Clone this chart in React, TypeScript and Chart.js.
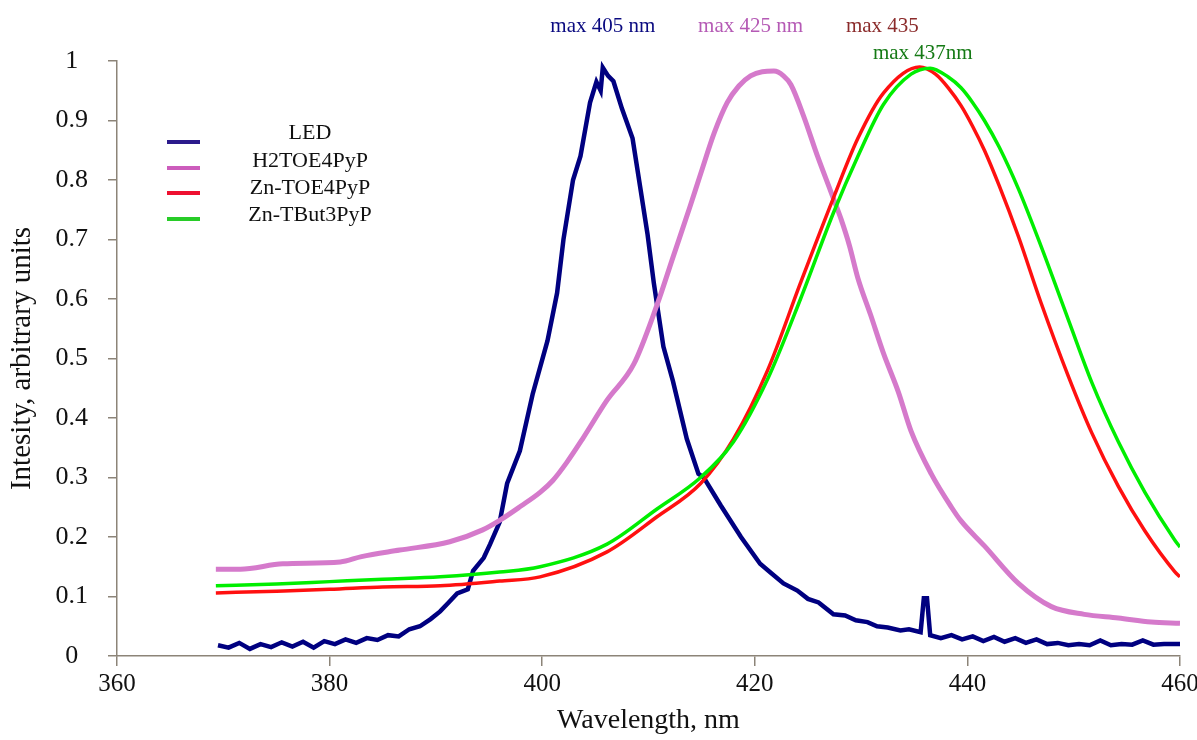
import React, { useEffect, useRef } from "react";
import { Chart, registerables } from "chart.js";

Chart.register(...registerables);

// ---- data ----
const xTickValues = [360, 380, 400, 420, 440, 460];
const yTickValues = [0, 0.1, 0.2, 0.3, 0.4, 0.5, 0.6, 0.7, 0.8, 0.9, 1];

const seriesNames = ["LED", "H2TOE4PyP", "Zn-TOE4PyP", "Zn-TBut3PyP"];
const peakLabels = ["max 405 nm", "max 425 nm", "max 435", "max 437nm"];

const ledX = [
  369.5, 370.5, 371.5, 372.5, 373.5, 374.5, 375.5, 376.5, 377.5, 378.5, 379.5,
  380.5, 381.5, 382.5, 383.5, 384.5, 385.5, 386.5, 387.5, 388.5, 389.5, 390.4,
  391.2, 392, 393, 393.5, 394.5, 395.1, 396, 396.7, 397.9, 399.1, 400.5, 401.4, 402,
  402.9, 403.6, 404.5, 405.1, 405.5, 405.7, 406.2, 406.7, 407.5, 408.5, 409.2,
  409.9, 410.5, 411.4, 412.3, 413.6, 414.7, 415.2, 416.8, 418.7, 420.5, 421.5,
  422.7, 424, 425, 426, 427.4, 428.5, 429.5, 430.6, 431.5, 432.5, 433.7, 434.5,
  435.6, 435.9, 436.2, 436.5, 437.5, 438.5, 439.5, 440.5, 441.5, 442.5, 443.5,
  444.5, 445.5, 446.5, 447.5, 448.5, 449.5, 450.5, 451.5, 452.5, 453.5, 454.5,
  455.5, 456.5, 457.5, 458.5, 460,
];
const ledY = [
  0.018, 0.014, 0.022, 0.012, 0.02, 0.015, 0.023, 0.016, 0.024, 0.014, 0.025,
  0.02, 0.028, 0.022, 0.03, 0.027, 0.035, 0.033, 0.045, 0.05, 0.062, 0.075,
  0.09, 0.105, 0.112, 0.143, 0.165, 0.188, 0.225, 0.29, 0.345, 0.44, 0.53, 0.61, 0.7,
  0.8, 0.84, 0.93, 0.965, 0.95, 0.989, 0.975, 0.966, 0.92, 0.87, 0.79,
  0.71, 0.627, 0.52, 0.462, 0.365, 0.306, 0.3, 0.253, 0.2, 0.155, 0.14,
  0.122, 0.11, 0.096, 0.09, 0.07, 0.068, 0.06, 0.057, 0.05, 0.048, 0.043, 0.045,
  0.04, 0.097, 0.097, 0.035, 0.03, 0.035, 0.028, 0.033, 0.025, 0.032, 0.024,
  0.03, 0.022, 0.028, 0.02, 0.022, 0.018, 0.02, 0.018, 0.026, 0.018, 0.02,
  0.019, 0.026, 0.019, 0.02, 0.02,
];

const h2X = [
  369.3, 371.6, 375.6, 381, 383, 386.6, 391.3, 394.4, 396, 398, 399.8, 401,
  402.3, 403.8, 406.1, 408.6, 410.8, 412.3, 413.9, 414.9, 416.2, 417.4, 418.5,
  419.6, 420.7, 421.8, 422.7, 423.4, 424.6, 425.9, 427.1, 428.1, 428.9, 429.7,
  430.9, 432.1, 433.5, 434.7, 436.6, 438.5, 439.4, 441.6, 444.8, 447.9, 451,
  454.2, 457.3, 460,
];
const h2Y = [
  0.146, 0.146, 0.155, 0.158, 0.167, 0.178, 0.192, 0.212, 0.228, 0.252, 0.275, 0.295,
  0.325, 0.365, 0.43, 0.49, 0.59, 0.67, 0.755, 0.81, 0.88, 0.93, 0.958,
  0.975, 0.982, 0.983, 0.975, 0.96, 0.907, 0.84, 0.783, 0.735, 0.69, 0.635,
  0.573, 0.509, 0.444, 0.378, 0.306, 0.25, 0.227, 0.185, 0.122, 0.083, 0.07,
  0.064, 0.057, 0.055,
];

const znToeX = [
  369.3, 375, 380, 385, 390.4, 396, 399.8, 406.1, 410.8, 414.9, 418, 421.2,
  424.3, 427.4, 429.7, 432.1, 435.5, 437, 438.2, 439.4, 440.5, 441.6, 443, 444.8,
  446.9, 449.5, 451.7, 454.2, 456.7, 459.5, 460,
];
const znToeY = [
  0.106, 0.109, 0.112, 0.116, 0.118, 0.126, 0.133, 0.175, 0.234, 0.29, 0.365,
  0.48, 0.627, 0.77, 0.87, 0.946, 0.99, 0.978, 0.955, 0.925, 0.89, 0.85, 0.79, 0.705,
  0.595, 0.47, 0.375, 0.285, 0.21, 0.142, 0.133,
];

const znButX = [
  369.3, 375, 380, 385, 390.4, 396, 399.8, 406.1, 410.8, 414.9, 418, 421.2,
  424.3, 427.4, 429.7, 432.1, 434.7, 436.5, 438.2, 439.4, 440.5, 441.6, 443, 444.8,
  446.9, 449.5, 451.7, 454.2, 456.7, 459.5, 460,
];
const znButY = [
  0.118, 0.121, 0.125, 0.129, 0.133, 0.141, 0.15, 0.188, 0.247, 0.3, 0.36,
  0.465, 0.6, 0.745, 0.84, 0.927, 0.978, 0.988, 0.973, 0.955, 0.93, 0.9, 0.855, 0.785,
  0.69, 0.565, 0.46, 0.36, 0.275, 0.195, 0.183,
];

// ---- styles ----
const SERIF = "'Liberation Serif', 'Times New Roman', serif";
const AXIS_COLOR = "#8c8478";
const lineColors = ["#000080", "#d57acb", "#ff1010", "#00ee00"];
const legendColors = ["#2b1a8c", "#cc5cbc", "#ee1030", "#28cc28"];
const peakColors = ["#0a0a80", "#b55ab5", "#8b2b2b", "#157a15"];
// annotation anchors in data units (nm, intensity)
const peakAnchors = [
  [405.7, 1.058],
  [419.6, 1.058],
  [432.0, 1.058],
  [435.8, 1.013],
];

const zip = (xs: number[], ys: number[]) => xs.map((x, i) => ({ x, y: ys[i] }));

const overlayPlugin = {
  id: "overlay",
  afterDraw(chart: any) {
    const { ctx } = chart;
    const xs = chart.scales.x;
    const ys = chart.scales.y;
    ctx.save();
    ctx.font = `21px ${SERIF}`;
    ctx.textAlign = "center";
    ctx.textBaseline = "middle";
    peakLabels.forEach((t, i) => {
      ctx.fillStyle = peakColors[i];
      ctx.fillText(t, xs.getPixelForValue(peakAnchors[i][0]), ys.getPixelForValue(peakAnchors[i][1]));
    });
    const lineYs = [142, 168, 193, 219];
    const textYs = [133, 161, 188, 215];
    ctx.lineWidth = 4;
    ctx.lineCap = "butt";
    seriesNames.forEach((name, i) => {
      ctx.strokeStyle = legendColors[i];
      ctx.beginPath();
      ctx.moveTo(167, lineYs[i]);
      ctx.lineTo(200, lineYs[i]);
      ctx.stroke();
      ctx.fillStyle = "#111";
      ctx.font = `22px ${SERIF}`;
      ctx.fillText(name, 310, textYs[i]);
    });
    ctx.restore();
  },
};

export default function App() {
  const ref = useRef<HTMLCanvasElement>(null);
  useEffect(() => {
    if (!ref.current) return;
    const chart = new Chart(ref.current, {
      type: "line",
      data: {
        datasets: [
          { label: seriesNames[0], data: zip(ledX, ledY), borderColor: lineColors[0], borderWidth: 4.5, tension: 0, order: 3 },
          { label: seriesNames[1], data: zip(h2X, h2Y), borderColor: lineColors[1], borderWidth: 5, cubicInterpolationMode: "monotone", order: 2 },
          { label: seriesNames[2], data: zip(znToeX, znToeY), borderColor: lineColors[2], borderWidth: 3.5, cubicInterpolationMode: "monotone", order: 1 },
          { label: seriesNames[3], data: zip(znButX, znButY), borderColor: lineColors[3], borderWidth: 3.5, cubicInterpolationMode: "monotone", order: 0 },
        ] as any,
      },
      options: {
        animation: false,
        responsive: false,
        elements: { point: { radius: 0 } },
        layout: { padding: { top: 61, right: 17, left: 0, bottom: 0 } },
        plugins: { legend: { display: false }, tooltip: { enabled: false } },
        scales: {
          x: {
            type: "linear",
            min: 360,
            max: 460,
            afterBuildTicks: (s: any) => {
              s.ticks = xTickValues.map((v) => ({ value: v }));
            },
            afterFit: (s: any) => {
              s.height = 84;
              s.paddingLeft = 0;
              s.paddingRight = 0;
            },
            ticks: { color: "#111", font: { family: SERIF, size: 25 }, padding: 3, maxRotation: 0, autoSkip: false },
            grid: { drawOnChartArea: false, drawTicks: true, tickLength: 10, color: AXIS_COLOR, lineWidth: 1.5 },
            border: { display: true, color: AXIS_COLOR, width: 1.5 },
            title: { display: true, text: "Wavelength, nm", color: "#111", font: { family: SERIF, size: 28 }, padding: { top: 0, bottom: 3 } },
          },
          y: {
            type: "linear",
            min: 0,
            max: 1,
            afterBuildTicks: (s: any) => {
              s.ticks = yTickValues.map((v) => ({ value: v }));
            },
            afterFit: (s: any) => {
              s.width = 117;
              s.paddingTop = 0;
              s.paddingBottom = 0;
            },
            ticks: {
              color: "#111",
              font: { family: SERIF, size: 26 },
              padding: 20,
              crossAlign: "center",
              autoSkip: false,
              callback: (v: any) => String(Number(Number(v).toFixed(1))),
            },
            grid: { drawOnChartArea: false, drawTicks: true, tickLength: 9, color: AXIS_COLOR, lineWidth: 1.5 },
            border: { display: true, color: AXIS_COLOR, width: 1.5 },
            title: { display: true, text: "Intesity, arbitrary units", color: "#111", font: { family: SERIF, size: 29 }, padding: { top: 5, bottom: 0 } },
          },
        },
      } as any,
      plugins: [overlayPlugin],
    });
    return () => chart.destroy();
  }, []);
  return (
    <div style={{ position: "absolute", left: 0, top: 0, width: 1197, height: 740, background: "#fff" }}>
      <canvas ref={ref} width={1197} height={740} style={{ display: "block" }} />
    </div>
  );
}
